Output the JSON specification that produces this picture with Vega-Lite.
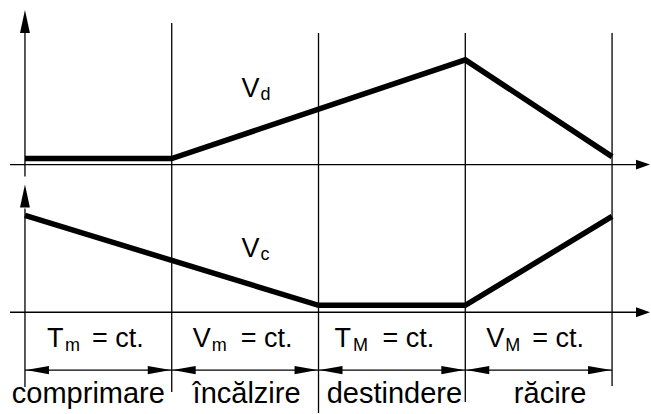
{
  "$schema": "https://vega.github.io/schema/vega-lite/v6.json",
  "width": 651,
  "height": 414,
  "autosize": {"type": "fit", "contains": "padding"},
  "padding": 0,
  "background": "white",
  "config": {"view": {"stroke": null}},
  "datasets": {
    "curves": [
      {"series": "Vd", "x": 0, "y": 2.55},
      {"series": "Vd", "x": 1, "y": 2.55},
      {"series": "Vd", "x": 3, "y": 3.54},
      {"series": "Vd", "x": 4, "y": 2.57},
      {"series": "Vc", "x": 0, "y": 1.98},
      {"series": "Vc", "x": 2, "y": 1.08},
      {"series": "Vc", "x": 3, "y": 1.08},
      {"series": "Vc", "x": 4, "y": 1.97}
    ],
    "rules": [
      {"x": 0, "x2": 0, "y": 3.84, "y2": 2.37},
      {"x": 0, "x2": 0, "y": 2.05, "y2": 0.26},
      {"x": 1, "x2": 1, "y": 3.91, "y2": 0.21},
      {"x": 2, "x2": 2, "y": 3.81, "y2": 0.0},
      {"x": 3, "x2": 3, "y": 3.81, "y2": 0.11},
      {"x": 4, "x2": 4, "y": 3.81, "y2": 0.27},
      {"x": -0.102, "x2": 4.19, "y": 2.49, "y2": 2.49},
      {"x": -0.102, "x2": 4.19, "y": 1.01, "y2": 1.01},
      {"x": 0, "x2": 4, "y": 0.43, "y2": 0.43}
    ],
    "upHeads": [
      {"x": 0, "y": 3.925},
      {"x": 0, "y": 2.175}
    ],
    "rightHeads": [
      {"x": 4.2109, "y": 2.49},
      {"x": 4.2109, "y": 1.01}
    ],
    "spanLeft": [
      {"x": 0.085, "y": 0.43},
      {"x": 1.085, "y": 0.43},
      {"x": 2.085, "y": 0.43},
      {"x": 3.085, "y": 0.43}
    ],
    "spanRight": [
      {"x": 0.915, "y": 0.43},
      {"x": 1.915, "y": 0.43},
      {"x": 2.915, "y": 0.43},
      {"x": 3.915, "y": 0.43}
    ],
    "mainText": [
      {"x": 0.1497, "y": 0.66, "t": "T"},
      {"x": 0.456, "y": 0.66, "t": "= ct."},
      {"x": 1.1429, "y": 0.66, "t": "V"},
      {"x": 1.4694, "y": 0.66, "t": "= ct."},
      {"x": 2.1088, "y": 0.66, "t": "T"},
      {"x": 2.4354, "y": 0.66, "t": "= ct."},
      {"x": 3.1429, "y": 0.66, "t": "V"},
      {"x": 3.4558, "y": 0.66, "t": "= ct."},
      {"x": 1.476, "y": 3.17, "t": "V"},
      {"x": 1.476, "y": 1.56, "t": "V"}
    ],
    "subText": [
      {"x": 0.272, "y": 0.62, "t": "m"},
      {"x": 1.272, "y": 0.62, "t": "m"},
      {"x": 2.235, "y": 0.62, "t": "M"},
      {"x": 3.272, "y": 0.62, "t": "M"},
      {"x": 1.605, "y": 3.14, "t": "d"},
      {"x": 1.605, "y": 1.53, "t": "c"}
    ],
    "phaseText": [
      {"x": 0.432, "y": 0.1, "t": "comprimare"},
      {"x": 1.51, "y": 0.1, "t": "încălzire"},
      {"x": 2.517, "y": 0.1, "t": "destindere"},
      {"x": 3.578, "y": 0.1, "t": "răcire"}
    ]
  },
  "encoding": {
    "x": {"field": "x", "type": "quantitative", "scale": {"domain": [-0.17007, 4.2585], "nice": false, "zero": false}, "axis": null},
    "y": {"field": "y", "type": "quantitative", "scale": {"domain": [0, 4.14], "nice": false, "zero": false}, "axis": null}
  },
  "layer": [
    {
      "data": {"name": "rules"},
      "mark": {"type": "rule", "color": "black", "strokeWidth": 1.3},
      "encoding": {
        "x2": {"field": "x2"},
        "y2": {"field": "y2"}
      }
    },
    {
      "data": {"name": "curves"},
      "mark": {"type": "line", "color": "black", "strokeWidth": 5.5, "strokeJoin": "miter", "strokeCap": "butt"},
      "encoding": {
        "detail": {"field": "series", "type": "nominal"},
        "order": {"field": "x", "type": "quantitative"}
      }
    },
    {
      "data": {"name": "upHeads"},
      "mark": {"type": "point", "filled": true, "color": "black", "opacity": 1, "strokeWidth": 0, "size": 529, "shape": "M0,-1L0.43,1L-0.43,1Z"}
    },
    {
      "data": {"name": "rightHeads"},
      "mark": {"type": "point", "filled": true, "color": "black", "opacity": 1, "strokeWidth": 0, "size": 196, "shape": "M1,0L-1,-0.71L-1,0.71Z"}
    },
    {
      "data": {"name": "spanLeft"},
      "mark": {"type": "point", "filled": true, "color": "black", "opacity": 1, "strokeWidth": 0, "size": 529, "shape": "M-1,0L1,-0.35L1,0.35Z"}
    },
    {
      "data": {"name": "spanRight"},
      "mark": {"type": "point", "filled": true, "color": "black", "opacity": 1, "strokeWidth": 0, "size": 529, "shape": "M1,0L-1,-0.35L-1,0.35Z"}
    },
    {
      "data": {"name": "mainText"},
      "mark": {"type": "text", "font": "Liberation Sans", "fontSize": 27, "align": "left", "baseline": "alphabetic", "color": "black"},
      "encoding": {"text": {"field": "t", "type": "nominal"}}
    },
    {
      "data": {"name": "subText"},
      "mark": {"type": "text", "font": "Liberation Sans", "fontSize": 18, "align": "left", "baseline": "alphabetic", "color": "black"},
      "encoding": {"text": {"field": "t", "type": "nominal"}}
    },
    {
      "data": {"name": "phaseText"},
      "mark": {"type": "text", "font": "Liberation Sans", "fontSize": 29, "align": "center", "baseline": "alphabetic", "color": "black"},
      "encoding": {"text": {"field": "t", "type": "nominal"}}
    }
  ]
}
